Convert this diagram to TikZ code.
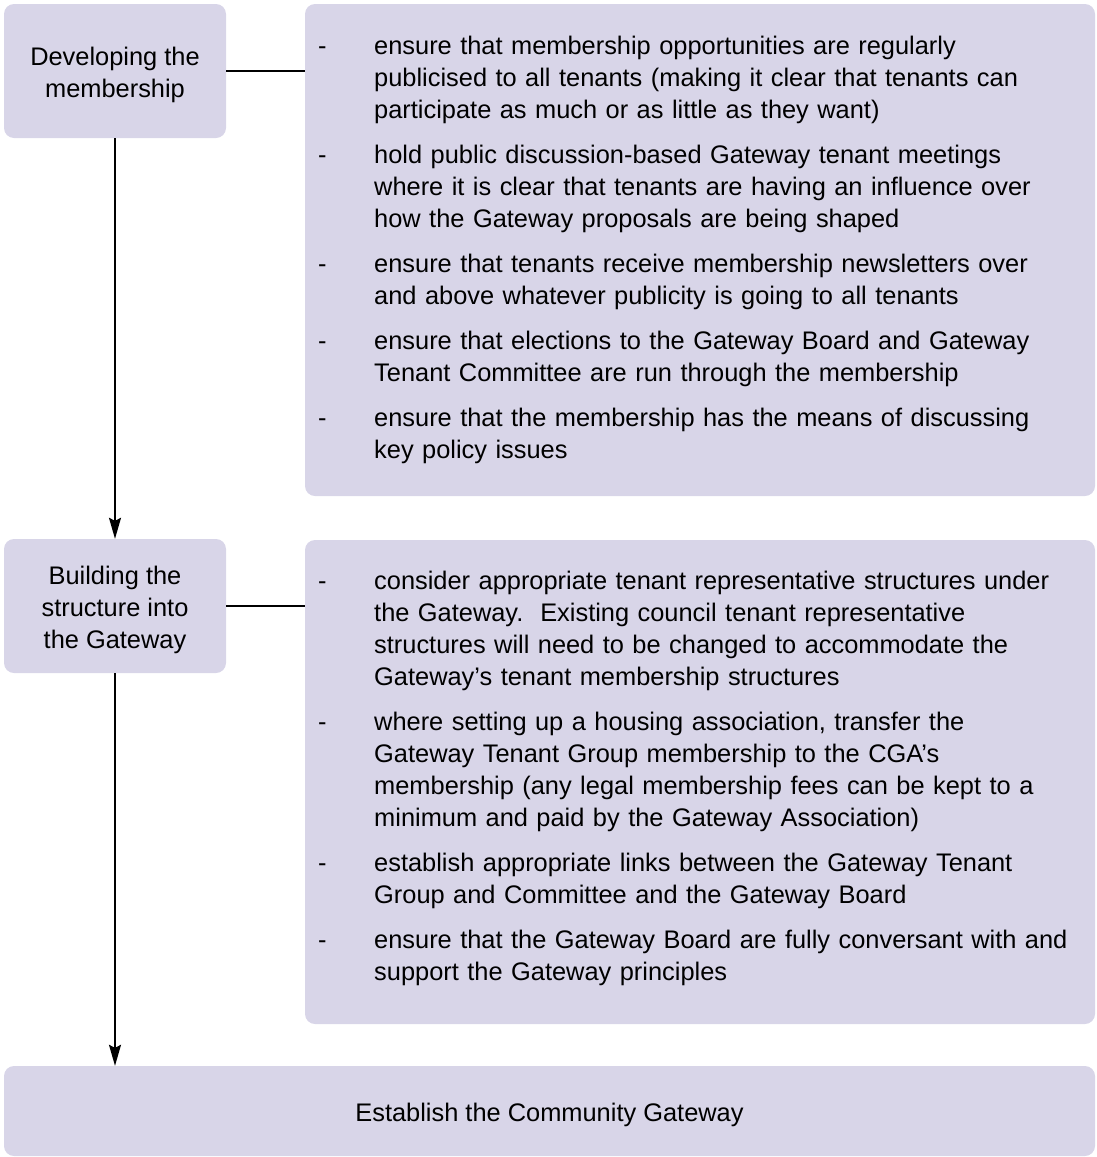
\documentclass[tikz,border=0pt]{standalone}
\usepackage{fontspec}
\setmainfont{Liberation Sans}
\usetikzlibrary{arrows.meta}
\definecolor{boxfill}{RGB}{216,213,232}
\newcommand{\dashitem}[1]{\strut\llap{\makebox[56pt][l]{-}}#1\par}
\newcommand{\lift}{\rule{0pt}{26pt}}

\begin{document}
\begin{tikzpicture}[x=1pt,y=-1pt,
  panel/.style={fill=boxfill,rounded corners=10pt,inner sep=0pt},
  stage/.style={panel,align=center,font=\fontsize{25.4}{32}\selectfont},
  notes/.style={anchor=north west,inner sep=0pt,text width=760pt,
    font=\fontsize{25.4}{32}\selectfont},
  link/.style={line width=1.5pt},
  flow/.style={line width=1.5pt,-{Stealth[length=21pt,width=12pt,inset=3pt]}}]
\useasboundingbox (0,0) rectangle (1096,1157);

\node[stage,minimum width=222pt,minimum height=134pt] (dev) at (115,71)
  {\lift Developing the\\membership};
\node[stage,minimum width=222pt,minimum height=134pt] (build) at (115,606)
  {\lift Building the\\structure into\\the Gateway};
\node[stage,minimum width=1091pt,minimum height=90pt] (goal) at (549.5,1111)
  {\lift Establish the Community Gateway};
\node[panel,minimum width=790pt,minimum height=492pt] (devbox) at (700,250) {};
\node[panel,minimum width=790pt,minimum height=484pt] (buildbox) at (700,782) {};

\node[notes] (devlist) at (318,32) {\parindent=0pt\leftskip=56pt\parskip=13pt
  \dashitem{ensure that membership opportunities are regularly\\
    publicised to all tenants (making it clear that tenants can\\
    participate as much or as little as they want)}
  \dashitem{hold public discussion-based Gateway tenant meetings\\
    where it is clear that tenants are having an influence over\\
    how the Gateway proposals are being shaped}
  \dashitem{ensure that tenants receive membership newsletters over\\
    and above whatever publicity is going to all tenants}
  \dashitem{ensure that elections to the Gateway Board and Gateway\\
    Tenant Committee are run through the membership}
  \dashitem{ensure that the membership has the means of discussing\\
    key policy issues}};

\node[notes] (buildlist) at (318,567) {\parindent=0pt\leftskip=56pt\parskip=13pt
  \dashitem{consider appropriate tenant representative structures under\\
    the Gateway.\ \ Existing council tenant representative\\
    structures will need to be changed to accommodate the\\
    Gateway’s tenant membership structures}
  \dashitem{where setting up a housing association, transfer the\\
    Gateway Tenant Group membership to the CGA’s\\
    membership (any legal membership fees can be kept to a\\
    minimum and paid by the Gateway Association)}
  \dashitem{establish appropriate links between the Gateway Tenant\\
    Group and Committee and the Gateway Board}
  \dashitem{ensure that the Gateway Board are fully conversant with and\\
    support the Gateway principles}};

\draw[link] (dev.east) -- (dev.east -| devbox.west);
\draw[link] (build.east) -- (build.east -| buildbox.west);
\draw[flow] (dev.south) -- (build.north);
\draw[flow] (build.south) -- (build.south |- goal.north);
\end{tikzpicture}
\end{document}
